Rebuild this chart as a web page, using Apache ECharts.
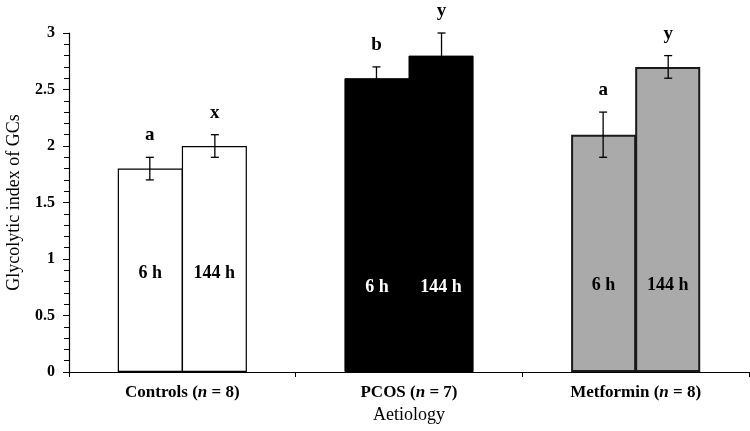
<!DOCTYPE html>
<html>
<head>
<meta charset="utf-8">
<script src="https://cdn.jsdelivr.net/npm/echarts@6/dist/echarts.min.js"></script>
<style>html,body{margin:0;padding:0;background:#fff}#c{width:750px;height:431px}</style>
</head>
<body>
<div id="c"></div>
<script>
const categories = ['Controls', 'PCOS', 'Metformin'];
const groupN = [8, 7, 8];
const times = ['6 h', '144 h'];
const mean6h = [1.8, 2.6, 2.1];
const err6h = [0.1, 0.1, 0.2];
const mean144h = [2.0, 2.8, 2.7];
const err144h = [0.1, 0.2, 0.1];
const letters6h = ['a', 'b', 'a'];
const letters144h = ['x', 'y', 'y'];
const yMin = 0, yMax = 3, yInterval = 0.5;

const FONT = '"Liberation Serif", "Times New Roman", serif';
const BAR_FRAC = 0.287;
const fills = ['#ffffff', '#000000', '#aaaaaa'];
const borders = ['#000000', '#000000', '#1a1a1a'];
const borderWidths = [1.2, 1, 2];
const innerColors = ['#000000', '#ffffff', '#000000'];
const innerDist = [90, 76, 78];

function barData(values) {
  return values.map((v, i) => ({
    value: v,
    itemStyle: { color: fills[i], borderColor: borders[i], borderWidth: borderWidths[i] },
    label: { color: innerColors[i], distance: innerDist[i] }
  }));
}

function errSeries(means, errs, letters, sign) {
  return {
    type: 'custom',
    z: 10,
    silent: true,
    data: means.map((m, i) => [i, m, errs[i]]),
    renderItem: function (params, api) {
      const cat = api.value(0), v = api.value(1), e = api.value(2);
      const letter = letters[params.dataIndex];
      const band = api.size([1, 0])[0];
      const off = sign * band * BAR_FRAC / 2;
      const top = api.coord([cat, v + e]);
      const bot = api.coord([cat, v - e]);
      const x = top[0] + off;
      const cap = 4;
      const ls = { stroke: '#000', lineWidth: 1.3 };
      return {
        type: 'group',
        children: [
          { type: 'line', shape: { x1: x, y1: top[1], x2: x, y2: bot[1] }, style: ls },
          { type: 'line', shape: { x1: x - cap, y1: top[1], x2: x + cap, y2: top[1] }, style: ls },
          { type: 'line', shape: { x1: x - cap, y1: bot[1], x2: x + cap, y2: bot[1] }, style: ls },
          { type: 'text', style: { text: letter, x: x, y: top[1] - 22, align: 'center', verticalAlign: 'middle', font: 'bold 19px ' + FONT, fill: '#000' } }
        ]
      };
    }
  };
}

const chart = echarts.init(document.getElementById('c'));
chart.setOption({
  animation: false,
  backgroundColor: '#fff',
  grid: { left: 69, right: 1, top: 33, bottom: 59, containLabel: false, outerBoundsMode: 'none' },
  xAxis: {
    type: 'category',
    data: categories,
    name: 'Aetiology',
    nameLocation: 'middle',
    nameGap: 33,
    nameTextStyle: { fontFamily: FONT, fontSize: 18, color: '#000' },
    axisLine: { lineStyle: { color: '#000', width: 1.2 } },
    axisTick: { show: true, length: 5, lineStyle: { color: '#000' } },
    axisLabel: {
      margin: 12,
      formatter: function (v, i) {
        return '{b|' + v + ' (}{i|n}{b| = ' + groupN[i] + ')}';
      },
      rich: {
        b: { fontFamily: FONT, fontWeight: 'bold', fontSize: 17, color: '#000' },
        i: { fontFamily: FONT, fontWeight: 'bold', fontStyle: 'italic', fontSize: 17, color: '#000' }
      }
    },
    splitLine: { show: false }
  },
  yAxis: {
    type: 'value',
    min: yMin, max: yMax, interval: yInterval,
    name: 'Glycolytic index of GCs',
    nameLocation: 'middle',
    nameGap: 46,
    nameTextStyle: { fontFamily: FONT, fontSize: 18, color: '#000' },
    axisLine: { show: true, lineStyle: { color: '#000', width: 1.2 } },
    axisTick: { show: true, length: 6, lineStyle: { color: '#000' } },
    minorTick: { show: true, splitNumber: 5, length: 5, lineStyle: { color: '#000' } },
    axisLabel: { margin: 14, fontFamily: FONT, fontWeight: 'bold', fontSize: 16, color: '#000' },
    splitLine: { show: false }
  },
  series: [
    {
      type: 'bar', name: times[0], data: barData(mean6h),
      barWidth: (BAR_FRAC * 100) + '%', barGap: '-1.5%',
      label: { show: true, position: 'insideBottom', formatter: times[0], fontFamily: FONT, fontWeight: 'bold', fontSize: 18 }
    },
    {
      type: 'bar', name: times[1], data: barData(mean144h),
      barWidth: (BAR_FRAC * 100) + '%', barGap: '-1.5%',
      label: { show: true, position: 'insideBottom', formatter: times[1], fontFamily: FONT, fontWeight: 'bold', fontSize: 18 }
    },
    errSeries(mean6h, err6h, letters6h, -1),
    errSeries(mean144h, err144h, letters144h, 1)
  ]
});
</script>
</body>
</html>
